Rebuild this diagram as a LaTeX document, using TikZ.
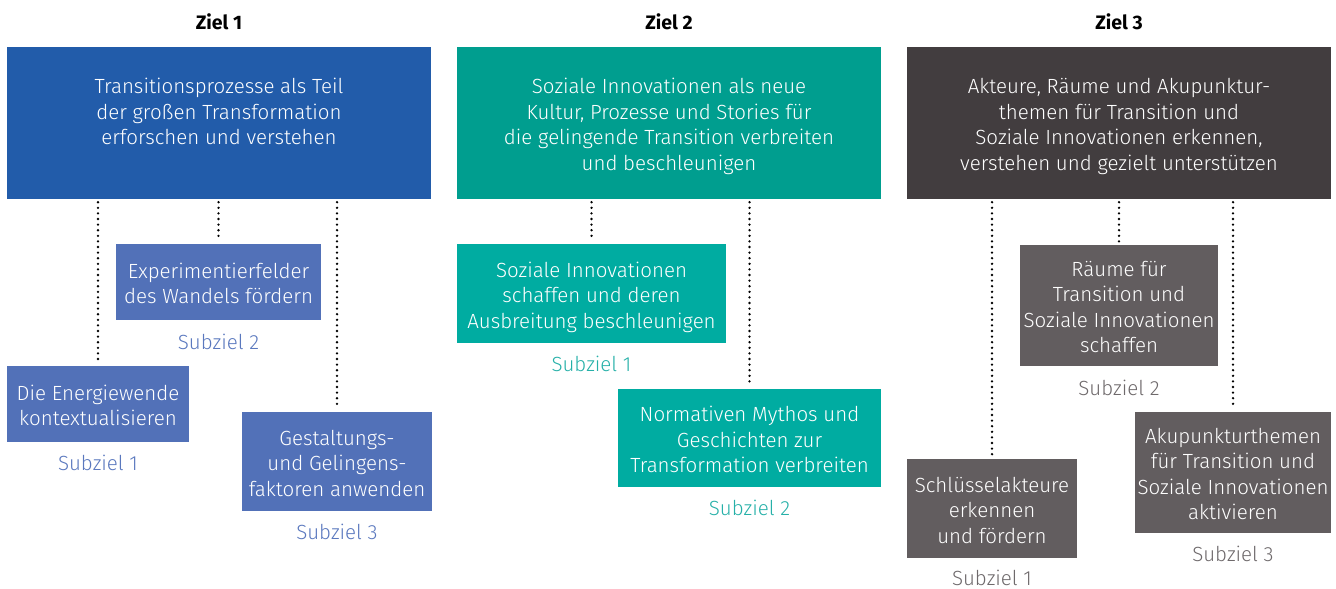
\documentclass[tikz,border=0pt]{standalone}
\usepackage{fontspec}
\setmainfont{Fira Sans Light}[BoldFont=Fira Sans Bold]
\definecolor{zOneMain}{RGB}{34,92,170}
\definecolor{zOneSub}{RGB}{82,113,184}
\definecolor{zOneLbl}{RGB}{90,120,190}
\definecolor{zTwoMain}{RGB}{0,158,143}
\definecolor{zTwoSub}{RGB}{0,172,161}
\definecolor{zTwoLbl}{RGB}{38,176,168}
\definecolor{zThreeMain}{RGB}{66,61,63}
\definecolor{zThreeSub}{RGB}{98,93,95}
\definecolor{zThreeLbl}{RGB}{110,105,107}
% fixed first-line height and last-line depth, so every box text sits alike
\newcommand{\firstln}{\rule{0pt}{23pt}}
\newcommand{\lastln}{\rule[-5pt]{0pt}{0pt}}
\tikzset{
  body/.style={font=\fontsize{20.5}{25.5}\selectfont},
  heading/.style={font=\fontsize{19.5}{22}\selectfont\bfseries, text=black},
  box/.style={body, rectangle, inner sep=0pt, align=center, text=white},
  mainbox/.style={box, minimum width=424pt, minimum height=152pt},
  subbox/.style={box},
  lbl/.style={body, inner sep=0pt},
  dots/.style={black, line width=2.6pt, line cap=round, dash pattern=on 0pt off 5.6pt},
}
\begin{document}
\begin{tikzpicture}[x=1pt,y=-1pt]
\useasboundingbox (0,0) rectangle (1336,589);

% headings
\node[heading] (h1) at (219,22) {Ziel 1};
\node[heading] (h2) at (669,22) {Ziel 2};
\node[heading] (h3) at (1119,22) {Ziel 3};

% main goal boxes
\node[mainbox, fill=zOneMain] (m1) at (219,123)
  {\firstln Transitionsprozesse als Teil\\der großen Transformation\\erforschen und verstehen\\\mbox{}\lastln};
\node[mainbox, fill=zTwoMain] (m2) at (669,123)
  {\firstln Soziale Innovationen als neue\\Kultur, Prozesse und Stories für\\die gelingende Transition verbreiten\\und beschleunigen\lastln};
\node[mainbox, fill=zThreeMain] (m3) at (1119,123)
  {\firstln Akteure, Räume und Akupunktur-\\themen für Transition und\\Soziale Innovationen erkennen,\\verstehen und gezielt unterstützen\lastln};

% Ziel 1 sub goals
\node[subbox, fill=zOneSub, minimum width=205pt, minimum height=76pt] (a2) at (218.5,282)
  {\firstln Experimentierfelder\\des Wandels fördern\lastln};
\node[subbox, fill=zOneSub, minimum width=182pt, minimum height=76pt] (a1) at (98,404)
  {\firstln Die Energiewende\\kontextualisieren\lastln};
\node[subbox, fill=zOneSub, minimum width=190pt, minimum height=99pt] (a3) at (337,461.5)
  {\firstln Gestaltungs-\\und Gelingens-\\faktoren anwenden\lastln};
\node[lbl, text=zOneLbl] (la2) at (218.5,342) {Subziel 2};
\node[lbl, text=zOneLbl] (la1) at (98,463) {Subziel 1};
\node[lbl, text=zOneLbl] (la3) at (337,532) {Subziel 3};

% Ziel 2 sub goals
\node[subbox, fill=zTwoSub, minimum width=269pt, minimum height=99pt] (b1) at (591.5,293.5)
  {\firstln Soziale Innovationen\\schaffen und deren\\Ausbreitung beschleunigen\lastln};
\node[subbox, fill=zTwoSub, minimum width=263pt, minimum height=98pt] (b2) at (749.5,438)
  {\firstln Normativen Mythos und\\Geschichten zur\\Transformation verbreiten\lastln};
\node[lbl, text=zTwoLbl] (lb1) at (591.5,364) {Subziel 1};
\node[lbl, text=zTwoLbl] (lb2) at (749.5,508) {Subziel 2};

% Ziel 3 sub goals
\node[subbox, fill=zThreeSub, minimum width=170pt, minimum height=99pt] (c1) at (992,508.5)
  {\firstln Schlüsselakteure\\erkennen\\und fördern\lastln};
\node[subbox, fill=zThreeSub, minimum width=198pt, minimum height=121pt] (c2) at (1119,305.5)
  {\firstln Räume für\\Transition und\\Soziale Innovationen\\schaffen\lastln};
\node[subbox, fill=zThreeSub, minimum width=196pt, minimum height=121pt] (c3) at (1233,472.5)
  {\firstln Akupunkturthemen\\für Transition und\\Soziale Innovationen\\aktivieren\lastln};
\node[lbl, text=zThreeLbl] (lc1) at (992,578) {Subziel 1};
\node[lbl, text=zThreeLbl] (lc2) at (1119,388) {Subziel 2};
\node[lbl, text=zThreeLbl] (lc3) at (1233,554) {Subziel 3};

% dotted connectors from goal to sub goals
\foreach \m/\s in {m1/a1, m1/a2, m1/a3, m2/b1, m2/b2, m3/c1, m3/c2, m3/c3}
  \draw[dots] ([yshift=-3pt]\s.north |- \m.south) -- ([yshift=3pt]\s.north);
\end{tikzpicture}
\end{document}
